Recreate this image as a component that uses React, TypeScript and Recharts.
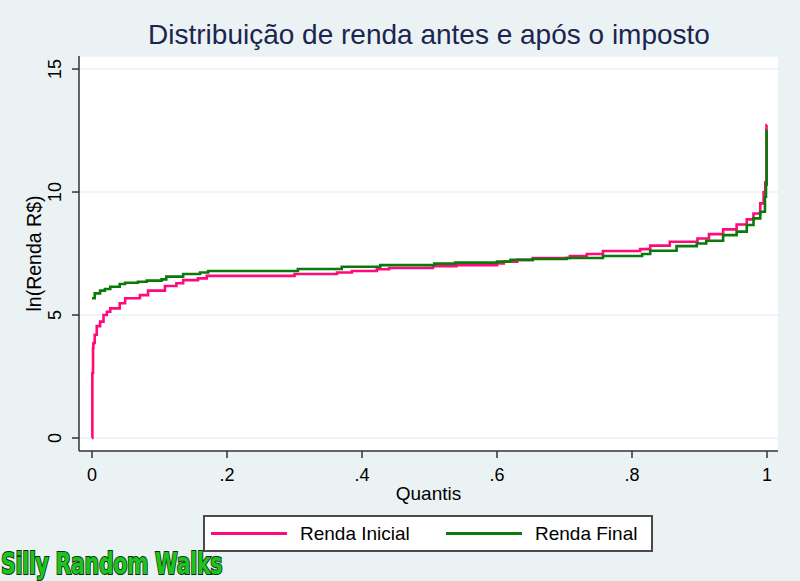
import { LineChart, Line, XAxis, YAxis, CartesianGrid } from 'recharts';

// Quantis e ln(renda)
const rendaInicial: [number, number][] = [
  [0, 0], [0.0005, 2.64], [0.0015, 3.66], [0.002, 3.86], [0.004, 4.2],
  [0.007, 4.55], [0.012, 4.73], [0.017, 5.0], [0.022, 5.13], [0.027, 5.27],
  [0.041, 5.48], [0.049, 5.68], [0.071, 5.81], [0.083, 5.99], [0.108, 6.18],
  [0.125, 6.29], [0.135, 6.42], [0.157, 6.49], [0.17, 6.59], [0.3, 6.67],
  [0.363, 6.73], [0.385, 6.79], [0.422, 6.86], [0.44, 6.91], [0.505, 6.98],
  [0.54, 7.03], [0.6, 7.1], [0.61, 7.17], [0.63, 7.24], [0.653, 7.32],
  [0.708, 7.4], [0.733, 7.48], [0.757, 7.6], [0.812, 7.68], [0.827, 7.82],
  [0.856, 7.98], [0.897, 8.11], [0.914, 8.29], [0.935, 8.48], [0.955, 8.68],
  [0.97, 8.89], [0.98, 9.13], [0.99, 9.54], [0.995, 10.0], [0.9975, 10.4],
  [0.9993, 12.72], [1, 12.72],
];

const rendaFinal: [number, number][] = [
  [0, 5.68], [0.004, 5.88], [0.012, 5.99], [0.019, 6.06], [0.027, 6.15],
  [0.041, 6.26], [0.049, 6.31], [0.068, 6.35], [0.081, 6.4], [0.103, 6.45],
  [0.11, 6.56], [0.135, 6.67], [0.16, 6.73], [0.172, 6.79], [0.305, 6.87],
  [0.37, 6.96], [0.427, 7.03], [0.507, 7.09], [0.538, 7.13], [0.6, 7.17],
  [0.62, 7.24], [0.653, 7.28], [0.703, 7.32], [0.757, 7.4], [0.815, 7.48],
  [0.827, 7.61], [0.866, 7.8], [0.896, 7.91], [0.91, 8.02], [0.935, 8.25],
  [0.955, 8.39], [0.97, 8.66], [0.98, 8.93], [0.99, 9.2], [0.997, 9.81],
  [0.9985, 10.3], [0.9995, 12.5], [1, 12.5],
];

const quantisTicks = [0, 0.2, 0.4, 0.6, 0.8, 1];
const rendaTicks = [0, 5, 10, 15];

const series = [
  { name: 'Renda Inicial', color: '#FF0A78', points: rendaInicial },
  { name: 'Renda Final', color: '#0A7A0A', points: rendaFinal },
];

const FONT = '"Liberation Sans", Arial, sans-serif';
const BG = '#EAF2F3';

const fmtQuantil = (v: number) => (v === 0 || v === 1 ? String(v) : String(v).replace(/^0/, ''));

const YTick = (props: any) => {
  const { x, y, payload } = props;
  const bx = x - 7.5;
  return (
    <text
      x={bx}
      y={y}
      transform={`rotate(-90 ${bx} ${y})`}
      textAnchor="middle"
      fontSize={18}
      fontFamily={FONT}
      fill="#000"
    >
      {payload.value}
    </text>
  );
};

export default function App() {
  return (
    <div style={{ position: 'absolute', left: 0, top: 0, width: 800, height: 581, background: BG, fontFamily: FONT }}>
      <div
        style={{
          position: 'absolute', left: 79, width: 700, top: 20, textAlign: 'center',
          fontSize: 28, lineHeight: '30px', color: '#1C2550',
        }}
      >
        Distribuição de renda antes e após o imposto
      </div>

      <LineChart width={800} height={581} margin={{ top: 56, right: 22, left: 19, bottom: 100 }}>
        <CartesianGrid vertical={false} fill="#fff" stroke={BG} strokeWidth={1.6} />
        <XAxis
          type="number"
          dataKey="q"
          domain={[-0.0193, 1.0163]}
          ticks={quantisTicks}
          tickFormatter={fmtQuantil}
          allowDataOverflow
          height={30}
          tickSize={7}
          tickMargin={10}
          stroke="#333"
          strokeWidth={1.5}
          tick={{ fontSize: 18, fontFamily: FONT, fill: '#000' }}
          label={(p: any) => (
            <text
              x={p.viewBox.x + p.viewBox.width / 2}
              y={p.viewBox.y + 49}
              textAnchor="middle"
              fontSize={19}
              fontFamily={FONT}
              fill="#000"
            >
              Quantis
            </text>
          )}
        />
        <YAxis
          type="number"
          domain={[-0.528, 15.53]}
          ticks={rendaTicks}
          allowDataOverflow
          width={60}
          tickSize={7}
          tickMargin={3}
          stroke="#333"
          strokeWidth={1.5}
          tick={<YTick />}
          label={(p: any) => {
            const cx = 40.7;
            const cy = p.viewBox.y + p.viewBox.height / 2;
            return (
              <text
                x={cx}
                y={cy}
                transform={`rotate(-90 ${cx} ${cy})`}
                textAnchor="middle"
                fontSize={19.5}
                fontFamily={FONT}
                fill="#000"
              >
                ln(Renda R$)
              </text>
            );
          }}
        />
        {series.map((s) => (
          <Line
            key={s.name}
            name={s.name}
            data={s.points.map(([q, v]) => ({ q, v }))}
            dataKey="v"
            type="stepAfter"
            stroke={s.color}
            strokeWidth={2.6}
            dot={false}
            activeDot={false}
            isAnimationActive={false}
          />
        ))}
      </LineChart>

      <div
        style={{
          position: 'absolute', left: 203, top: 515, width: 446, height: 33,
          background: '#fff', border: '2px solid #4a4a4a', display: 'flex', alignItems: 'center',
        }}
      >
        {series.map((s, i) => (
          <div key={s.name} style={{ display: 'flex', alignItems: 'center', width: i === 0 ? 235 : 'auto', marginLeft: i === 0 ? 6 : 0 }}>
            <div style={{ width: 76, height: 3, background: s.color }} />
            <span style={{ marginLeft: 13, fontSize: 19, color: '#000' }}>{s.name}</span>
          </div>
        ))}
      </div>

      <div
        style={{
          position: 'absolute', left: 1, top: 547, fontSize: 31, fontWeight: 'bold',
          fontFamily: '"Liberation Sans Narrow", "DejaVu Sans Condensed", sans-serif',
          color: '#1EC31E', WebkitTextStroke: '2px #0B300B', paintOrder: 'stroke fill',
          letterSpacing: -0.5, lineHeight: '32px', whiteSpace: 'nowrap',
          transform: 'scaleX(0.74)', transformOrigin: 'left top',
        }}
      >
        Silly Random Walks
      </div>
    </div>
  );
}
